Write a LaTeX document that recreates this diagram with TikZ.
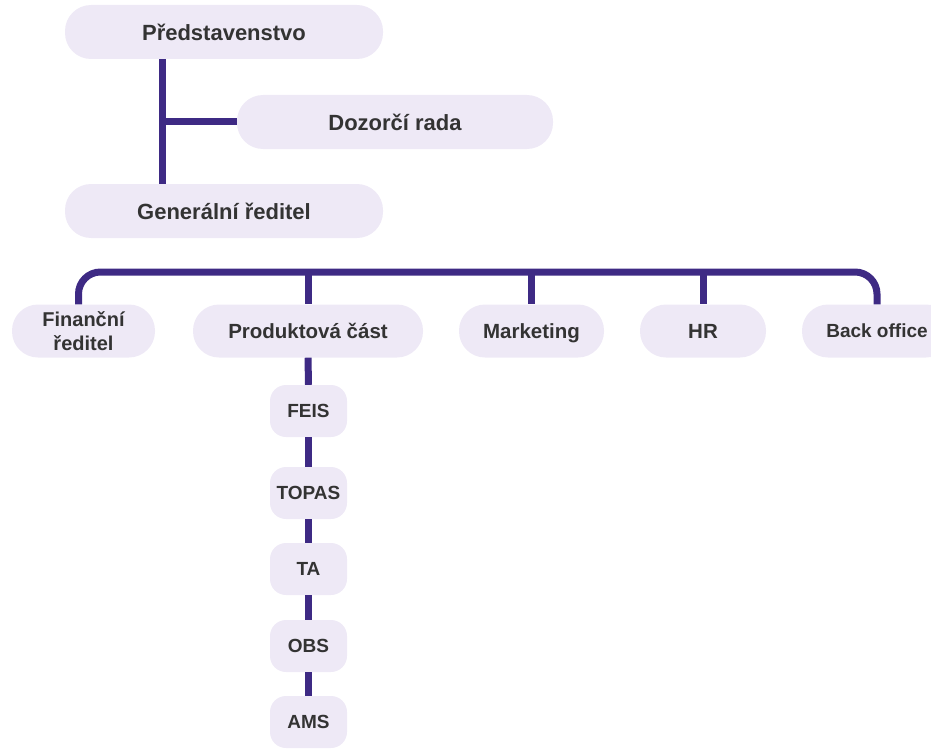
\documentclass[tikz,border=0pt]{standalone}
\usepackage{fontspec}
\setmainfont{Liberation Sans}
\definecolor{boxfill}{HTML}{EEE9F6}
\definecolor{linec}{HTML}{3E2A84}
\definecolor{textc}{HTML}{333333}
\begin{document}
\begin{tikzpicture}[x=1pt,y=-1pt,
  box/.style={fill=boxfill, rounded corners=26pt, minimum height=54pt, inner sep=0pt, align=center,
    text=textc, font=\bfseries\fontsize{22}{24}\selectfont},
  rowbase/.style={box, minimum height=53pt, font=\bfseries\fontsize{20.5}{24}\selectfont},
  rowbox/.style={rowbase, text height=14.7pt, text depth=0pt},
  smallbox/.style={box, rounded corners=16pt, minimum width=77pt, minimum height=52pt,
    text height=13.6pt, text depth=0pt, font=\bfseries\fontsize{19}{22}\selectfont},
  conn/.style={draw=linec, line width=7pt}]
\useasboundingbox (0,0) rectangle (931,749);
\node[box, minimum width=318pt] (pred) at (224,32) {Představenstvo};
\node[box, minimum width=316pt] (dozor) at (395,122) {Dozorčí rada};
\node[box, minimum width=318pt] (gen) at (224,211) {Generální ředitel};
\node[rowbase, minimum width=143pt, font=\bfseries\fontsize{20}{24}\selectfont] (fin) at (83.5,331) {Finanční\\ředitel};
\node[rowbox, minimum width=230pt] (prod) at (308,331) {Produktová část};
\node[rowbox, minimum width=145pt] (mark) at (531.5,331) {Marketing};
\node[rowbox, minimum width=126pt] (hr) at (703,331) {HR};
\node[rowbox, minimum width=150pt, text height=13.6pt, font=\bfseries\fontsize{19}{24}\selectfont] (back) at (877,331) {Back office};
\node[smallbox] (feis) at (308.5,411) {FEIS};
\node[smallbox] (topas) at (308.5,493) {TOPAS};
\node[smallbox] (ta) at (308.5,569) {TA};
\node[smallbox] (obs) at (308.5,646) {OBS};
\node[smallbox] (ams) at (308.5,722) {AMS};
\coordinate (trunk) at (162,0);
\coordinate (bus) at (0,272);
\draw[conn] (trunk |- pred.south) -- (trunk |- gen.north);
\draw[conn] (trunk |- dozor.west) -- (dozor.west);
\draw[conn, rounded corners=22pt] ([xshift=-5pt]fin.north) |- (bus -| back.north) -- (back.north);
\draw[conn] (prod.north |- bus) -- (prod.north);
\draw[conn] (mark.north |- bus) -- (mark.north);
\draw[conn] (hr.north |- bus) -- (hr.north);
\draw[conn] (prod.south) -- (feis.north);
\draw[conn] (feis.south) -- (topas.north);
\draw[conn] (topas.south) -- (ta.north);
\draw[conn] (ta.south) -- (obs.north);
\draw[conn] (obs.south) -- (ams.north);
\end{tikzpicture}
\end{document}
